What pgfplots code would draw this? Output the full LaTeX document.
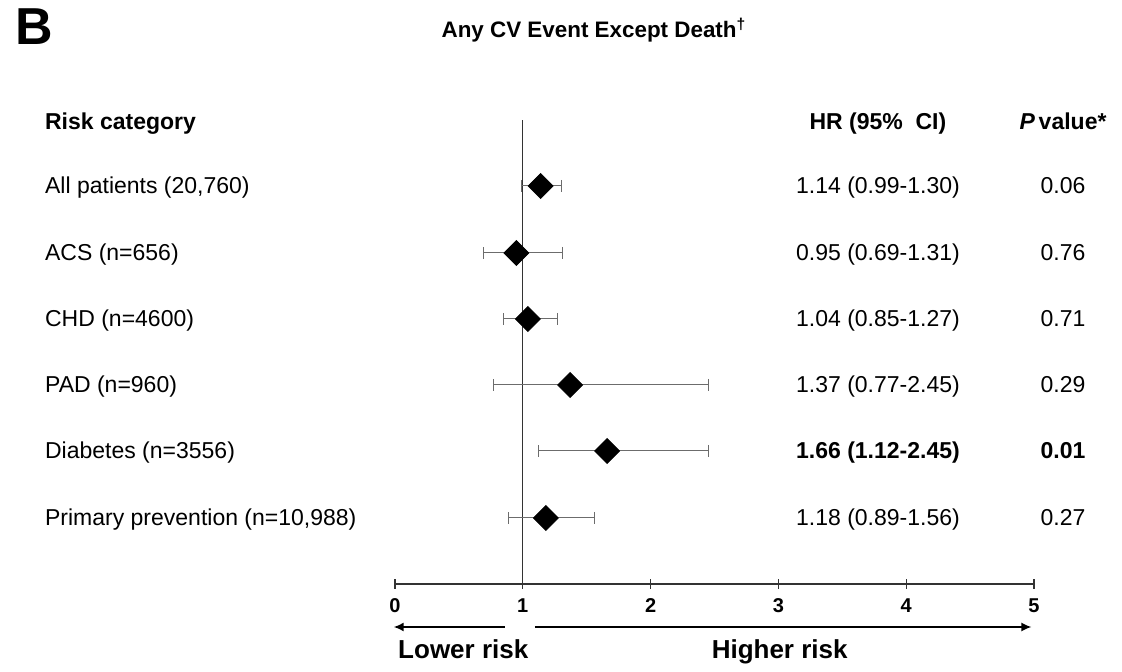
\documentclass[border=0pt]{standalone}
\usepackage{pgfplots}
\pgfplotsset{compat=1.18}
\usepackage{pgfplotstable}
\usetikzlibrary{arrows.meta}
\usepackage{fontspec}
\setmainfont{Liberation Sans}
\pgfplotstableread{
x     y     em    ep
1.14  -186  0.15  0.16
0.95  -253  0.26  0.36
1.04  -319  0.19  0.23
1.37  -385  0.60  1.08
1.66  -451  0.54  0.79
1.18  -518  0.29  0.38
}\hrdata
\begin{document}
\begin{tikzpicture}
\begin{axis}[
  scale only axis,
  width=319.5pt, height=232pt,
  xmin=0, xmax=5, ymin=-584, ymax=-120,
  axis x line=bottom, axis y line=none,
  x axis line style={-, line width=0.6pt, black!80},
  xtick={0,1,2,3,4,5},
  tick align=center, major tick length=5pt,
  xtick style={line width=0.6pt, black!80},
  xticklabel style={font=\bfseries\fontsize{10}{11}\selectfont, text height=7.2pt, text depth=0pt, yshift=-1pt},
  /pgf/number format/assume math mode=true,
  clip=false,
]
\path (axis cs:-3.0908,0) rectangle (axis cs:5.6886,-662);
\addplot[black!80, line width=0.7pt] coordinates {(1,-584) (1,-120)};
\addplot[only marks, mark=square*, mark size=4.4pt,
  mark options={rotate=45, fill=black, draw=black},
  error bars/.cd, x dir=both, x explicit,
  error mark=|,
  error bar style={gray!85!black, line width=0.5pt},
  error mark options={gray!85!black, line width=0.6pt, mark size=3pt}]
  table[x=x, y=y, x error minus=em, x error plus=ep] {\hrdata};
% headings
\node[anchor=west, inner sep=0pt, font=\bfseries\fontsize{26}{28}\selectfont] at (axis cs:-2.975,-27) {B};
\node[font=\bfseries\fontsize{11.2}{13}\selectfont] at (axis cs:1.557,-30) {Any CV Event Except Death\textsuperscript{\dag}};
\begin{scope}[every node/.style={font=\bfseries\fontsize{11.5}{13}\selectfont}]
\node[anchor=base west] at (axis cs:-2.793,-130) {Risk category};
\node[anchor=base] at (axis cs:3.779,-130) {HR (95\%\ \ CI)};
\node[anchor=base] at (axis cs:5.227,-130) {\textit{P}\,value*};
\end{scope}
% row labels
\begin{scope}[every node/.style={font=\fontsize{11.5}{13}\selectfont}]
\node[anchor=base west] at (axis cs:-2.793,-194) {All patients (20,760)};
\node[anchor=base west] at (axis cs:-2.793,-261) {ACS (n=656)};
\node[anchor=base west] at (axis cs:-2.793,-327) {CHD (n=4600)};
\node[anchor=base west] at (axis cs:-2.793,-393) {PAD (n=960)};
\node[anchor=base west] at (axis cs:-2.793,-459) {Diabetes (n=3556)};
\node[anchor=base west] at (axis cs:-2.793,-526) {Primary prevention (n=10,988)};
\node[anchor=base] at (axis cs:3.779,-194) {1.14 (0.99-1.30)};
\node[anchor=base] at (axis cs:3.779,-261) {0.95 (0.69-1.31)};
\node[anchor=base] at (axis cs:3.779,-327) {1.04 (0.85-1.27)};
\node[anchor=base] at (axis cs:3.779,-393) {1.37 (0.77-2.45)};
\node[anchor=base, font=\bfseries\fontsize{11.5}{13}\selectfont] at (axis cs:3.779,-459) {1.66 (1.12-2.45)};
\node[anchor=base] at (axis cs:3.779,-526) {1.18 (0.89-1.56)};
\node[anchor=base] at (axis cs:5.227,-194) {0.06};
\node[anchor=base] at (axis cs:5.227,-261) {0.76};
\node[anchor=base] at (axis cs:5.227,-327) {0.71};
\node[anchor=base] at (axis cs:5.227,-393) {0.29};
\node[anchor=base, font=\bfseries\fontsize{11.5}{13}\selectfont] at (axis cs:5.227,-459) {0.01};
\node[anchor=base] at (axis cs:5.227,-526) {0.27};
\end{scope}
% arrows
\draw[-{Latex[length=5pt,width=4.5pt]}, line width=0.8pt] (axis cs:0.86,-627) -- (axis cs:-0.01,-627);
\draw[-{Latex[length=5pt,width=4.5pt]}, line width=0.8pt] (axis cs:1.095,-627) -- (axis cs:4.98,-627);
\node[anchor=base west, font=\bfseries\fontsize{13}{15}\selectfont] at (axis cs:-0.03,-659) {Lower risk};
\node[anchor=base, font=\bfseries\fontsize{13}{15}\selectfont] at (axis cs:3.01,-659) {Higher risk};
\end{axis}
\end{tikzpicture}
\end{document}
